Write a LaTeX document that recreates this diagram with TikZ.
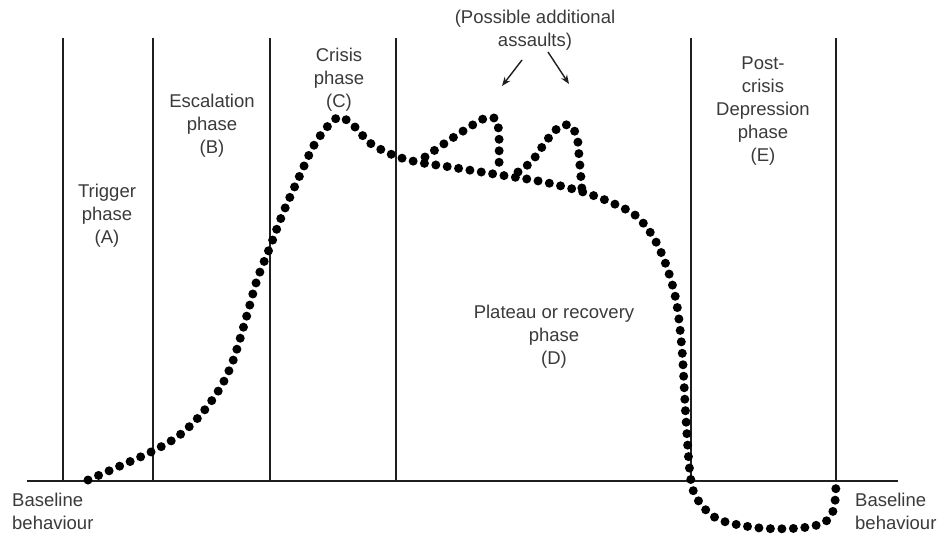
\documentclass[tikz,border=0pt]{standalone}
\usepackage{fontspec}
\setmainfont{Liberation Sans}
\usetikzlibrary{arrows.meta}
\definecolor{txt}{HTML}{3A3A3A}
\definecolor{ink}{HTML}{1E1E1E}
\tikzset{
  lbl/.style={align=center, inner sep=0pt, text=txt, font=\fontsize{18.5}{23}\selectfont},
  lbll/.style={align=left, inner sep=0pt, text=txt, font=\fontsize{18.5}{23}\selectfont},
  axis/.style={draw=ink, line width=2pt},
  dots/.style={draw=black, line width=9pt, line cap=round, dash pattern=on 0pt off 11.5pt},
  pointer/.style={draw=ink, line width=1.4pt, -{Stealth[length=9pt,width=7pt]}}
}
\begin{document}
\begin{tikzpicture}[x=1pt,y=-1pt]
\useasboundingbox (0,0) rectangle (937,535);
% baseline and phase separators
\coordinate (bl) at (27,481);
\coordinate (br) at (898,481);
\draw[axis] (bl) -- (br);
\foreach \xx/\nm in {63/v1,153/v2,270/v3,396/v4,691/v5,836/v6}{
  \coordinate (\nm t) at (\xx,38);
  \coordinate (\nm b) at (\xx,481);
  \draw[axis] (\nm t) -- (\nm b);
}
% main curve
\draw[dots] plot[smooth, tension=0.55] coordinates {
 (88,480) (120,466) (153,451) (177,437) (195,421) (210,403) (223,383) (234,358)
 (247,315) (257,280) (270,247) (283,213)
 (300,175) (313,147) (327,127) (340,117) (355,127) (370,143) (393,155)
 (417,162) (450,167) (500,175) (533,180) (557,185) (583,192) (610,202) (635,215)
 (652,235) (665,262) (676,300) (682,350) (686,420) (691,481) (700,503) (720,520)
 (760,528) (800,528) (825,522) (834,508) (836,483)};
% possible additional assaults
\draw[dots] plot[smooth, tension=0.4] coordinates {
 (425,157) (454,137) (483,119) (496,119) (499,135) (499,172)};
\draw[dots] plot[smooth, tension=0.5] coordinates {
 (518,172) (532,161) (547,140) (558,128) (570,125) (577,137) (579,155) (582,190)};
% labels
\node[lbl] (trig) at (107,216) {Trigger\\phase\\(A)};
\node[lbl] (esc) at (212,126) {Escalation\\phase\\(B)};
\node[lbl] (cri) at (339,80) {Crisis\\phase\\(C)};
\node[lbl] (pla) at (554,337) {Plateau or recovery\\phase\\(D)};
\node[lbl] (post) at (763,111) {Post-\\crisis\\Depression\\phase\\(E)};
\node[lbl] (poss) at (535,30) {(Possible additional\\assaults)};
\node[lbll, anchor=west] (basel) at (12,511) {Baseline\\behaviour};
\node[lbll, anchor=west] (baser) at (855,511) {Baseline\\behaviour};
% arrows
\coordinate (a1s) at (522,60);
\coordinate (a1e) at (502,86);
\coordinate (a2s) at (548,52);
\coordinate (a2e) at (569,84);
\draw[pointer] (a1s) -- (a1e);
\draw[pointer] (a2s) -- (a2e);
\end{tikzpicture}
\end{document}
